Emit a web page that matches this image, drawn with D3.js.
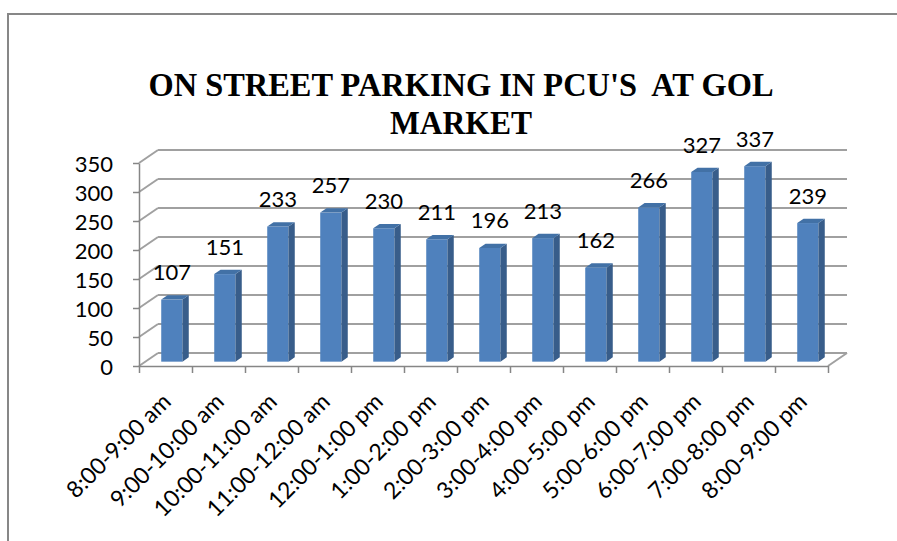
<!DOCTYPE html>
<html>
<head>
<meta charset="utf-8">
<script src="https://cdn.jsdelivr.net/npm/d3@7"></script>
<style>
  body { margin: 0; background: #fff; }
  svg text { font-family: Lato, "Open Sans", sans-serif; }
</style>
</head>
<body>
<div id="chart"></div>
<script>
// chart data
let categories = ["8:00-9:00 am", "9:00-10:00 am", "10:00-11:00 am", "11:00-12:00 am",
    "12:00-1:00 pm", "1:00-2:00 pm", "2:00-3:00 pm", "3:00-4:00 pm", "4:00-5:00 pm",
    "5:00-6:00 pm", "6:00-7:00 pm", "7:00-8:00 pm", "8:00-9:00 pm"];
let values = [107, 151, 233, 257, 230, 211, 196, 213, 162, 266, 327, 337, 239];
let yTicks = [0, 50, 100, 150, 200, 250, 300, 350];
let titleLines = ["ON STREET PARKING IN PCU'S  AT GOL", "MARKET"];

let svgWidth = 897;
let svgHeight = 541;

// plot area (front plane)
let plotLeft = 139, plotRight = 828, plotBottom = 366, plotTop = 163;
// depth of the 3d box, split in thirds for the bars
let depth = { dx: 19, dy: -13 };
let front = { dx: depth.dx / 3, dy: depth.dy / 3 };
let back = { dx: depth.dx * 2 / 3, dy: depth.dy * 2 / 3 };

let svg = d3.select("#chart")
    .append("svg")
    .attr("width", svgWidth)
    .attr("height", svgHeight);

// outer frame
svg.append("rect")
    .attr("x", 8)
    .attr("y", 14)
    .attr("width", 950)
    .attr("height", 600)
    .attr("fill", "#fff")
    .attr("stroke", "#878787")
    .attr("stroke-width", 2);

// title
svg.append("g").selectAll("text")
    .data(titleLines)
    .join("text")
    .attr("x", 461)
    .attr("y", (d, i) => 96 + i * 38)
    .attr("text-anchor", "middle")
    .attr("textLength", (d, i) => i === 0 ? 625 : 142)
    .attr("lengthAdjust", "spacingAndGlyphs")
    .style("white-space", "pre")
    .style("font-family", "'Liberation Serif', 'Times New Roman', serif")
    .style("font-weight", "bold")
    .style("font-size", "34px")
    .text(d => d);

// scales
let x = d3.scaleBand()
    .domain(categories)
    .range([plotLeft, plotRight]);

let xEdge = d3.scaleLinear()
    .domain([0, categories.length])
    .range([plotLeft, plotRight]);

let y = d3.scaleLinear()
    .domain([0, 350])
    .range([plotBottom, plotTop]);

let gridColor = "#a0a0a0";
let axisColor = "#868686";

// back wall gridlines
let grid = svg.append("g");
grid.selectAll(".back")
    .data(yTicks)
    .join("line")
    .attr("class", "back")
    .attr("x1", plotLeft + depth.dx)
    .attr("x2", plotRight + depth.dx)
    .attr("y1", d => y(d) + depth.dy)
    .attr("y2", d => y(d) + depth.dy)
    .attr("stroke", gridColor)
    .attr("stroke-width", 2);

// side wall diagonals
grid.selectAll(".side")
    .data(yTicks)
    .join("line")
    .attr("class", "side")
    .attr("x1", plotLeft)
    .attr("x2", plotLeft + depth.dx)
    .attr("y1", d => y(d))
    .attr("y2", d => y(d) + depth.dy)
    .attr("stroke", gridColor)
    .attr("stroke-width", 2);

// floor right edge
grid.append("line")
    .attr("x1", plotRight)
    .attr("x2", plotRight + depth.dx)
    .attr("y1", y(0))
    .attr("y2", y(0) + depth.dy)
    .attr("stroke", gridColor)
    .attr("stroke-width", 2);

// bars
let barW = x.bandwidth() * 0.4;
let bars = svg.append("g").selectAll("g")
    .data(categories.map((c, i) => ({ cat: c, val: values[i] })))
    .join("g");

let x0 = d => x(d.cat) + (x.bandwidth() - barW) / 2;

bars.append("rect")
    .attr("x", d => x0(d) + front.dx)
    .attr("y", d => y(d.val) + front.dy)
    .attr("width", barW)
    .attr("height", d => y(0) - y(d.val))
    .attr("fill", "#4f81bd");

bars.append("polygon")
    .attr("points", d => {
        let xr = x0(d) + barW;
        return [[xr + front.dx, y(d.val) + front.dy], [xr + back.dx, y(d.val) + back.dy],
            [xr + back.dx, y(0) + back.dy], [xr + front.dx, y(0) + front.dy]].join(" ");
    })
    .attr("fill", "#385d8a");

bars.append("polygon")
    .attr("points", d => {
        let xl = x0(d), xr = xl + barW, yt = y(d.val);
        return [[xl + front.dx, yt + front.dy], [xr + front.dx, yt + front.dy],
            [xr + back.dx, yt + back.dy], [xl + back.dx, yt + back.dy]].join(" ");
    })
    .attr("fill", "#4271a6");

// data labels
bars.append("text")
    .attr("x", d => x0(d) + barW / 2 + front.dx)
    .attr("y", d => y(d.val) + front.dy - 19.5)
    .attr("text-anchor", "middle")
    .style("font-size", "22px")
    .attr("fill", "#000")
    .text(d => d.val);

// y axis on the front plane
let yAxis = svg.append("g")
    .attr("transform", `translate(${plotLeft}, 0)`)
    .call(d3.axisLeft(y).tickValues(yTicks).tickSize(6).tickSizeOuter(0).tickPadding(20));
yAxis.select(".domain").attr("stroke", axisColor).attr("stroke-width", 1.5);
yAxis.selectAll(".tick line").attr("stroke", axisColor).attr("stroke-width", 1.5);
yAxis.selectAll(".tick text")
    .attr("fill", "#000")
    .attr("dy", "0.38em")
    .style("font-size", "22px")
    .style("font-family", "Lato, sans-serif");

// x axis: ticks on category edges
let xAxis = svg.append("g")
    .attr("transform", `translate(0, ${plotBottom})`)
    .call(d3.axisBottom(xEdge).ticks(categories.length).tickSize(7).tickSizeOuter(0).tickFormat(""));
xAxis.select(".domain").attr("stroke", axisColor).attr("stroke-width", 1.5);
xAxis.selectAll(".tick line").attr("stroke", axisColor).attr("stroke-width", 1.5);

// rotated category labels
svg.append("g").selectAll("text")
    .data(categories)
    .join("text")
    .attr("text-anchor", "end")
    .attr("transform", d => `translate(${x(d) + x.bandwidth() / 2 + 7}, 403) rotate(-45)`)
    .style("font-size", "23px")
    .attr("fill", "#000")
    .text(d => d);
</script>
</body>
</html>
